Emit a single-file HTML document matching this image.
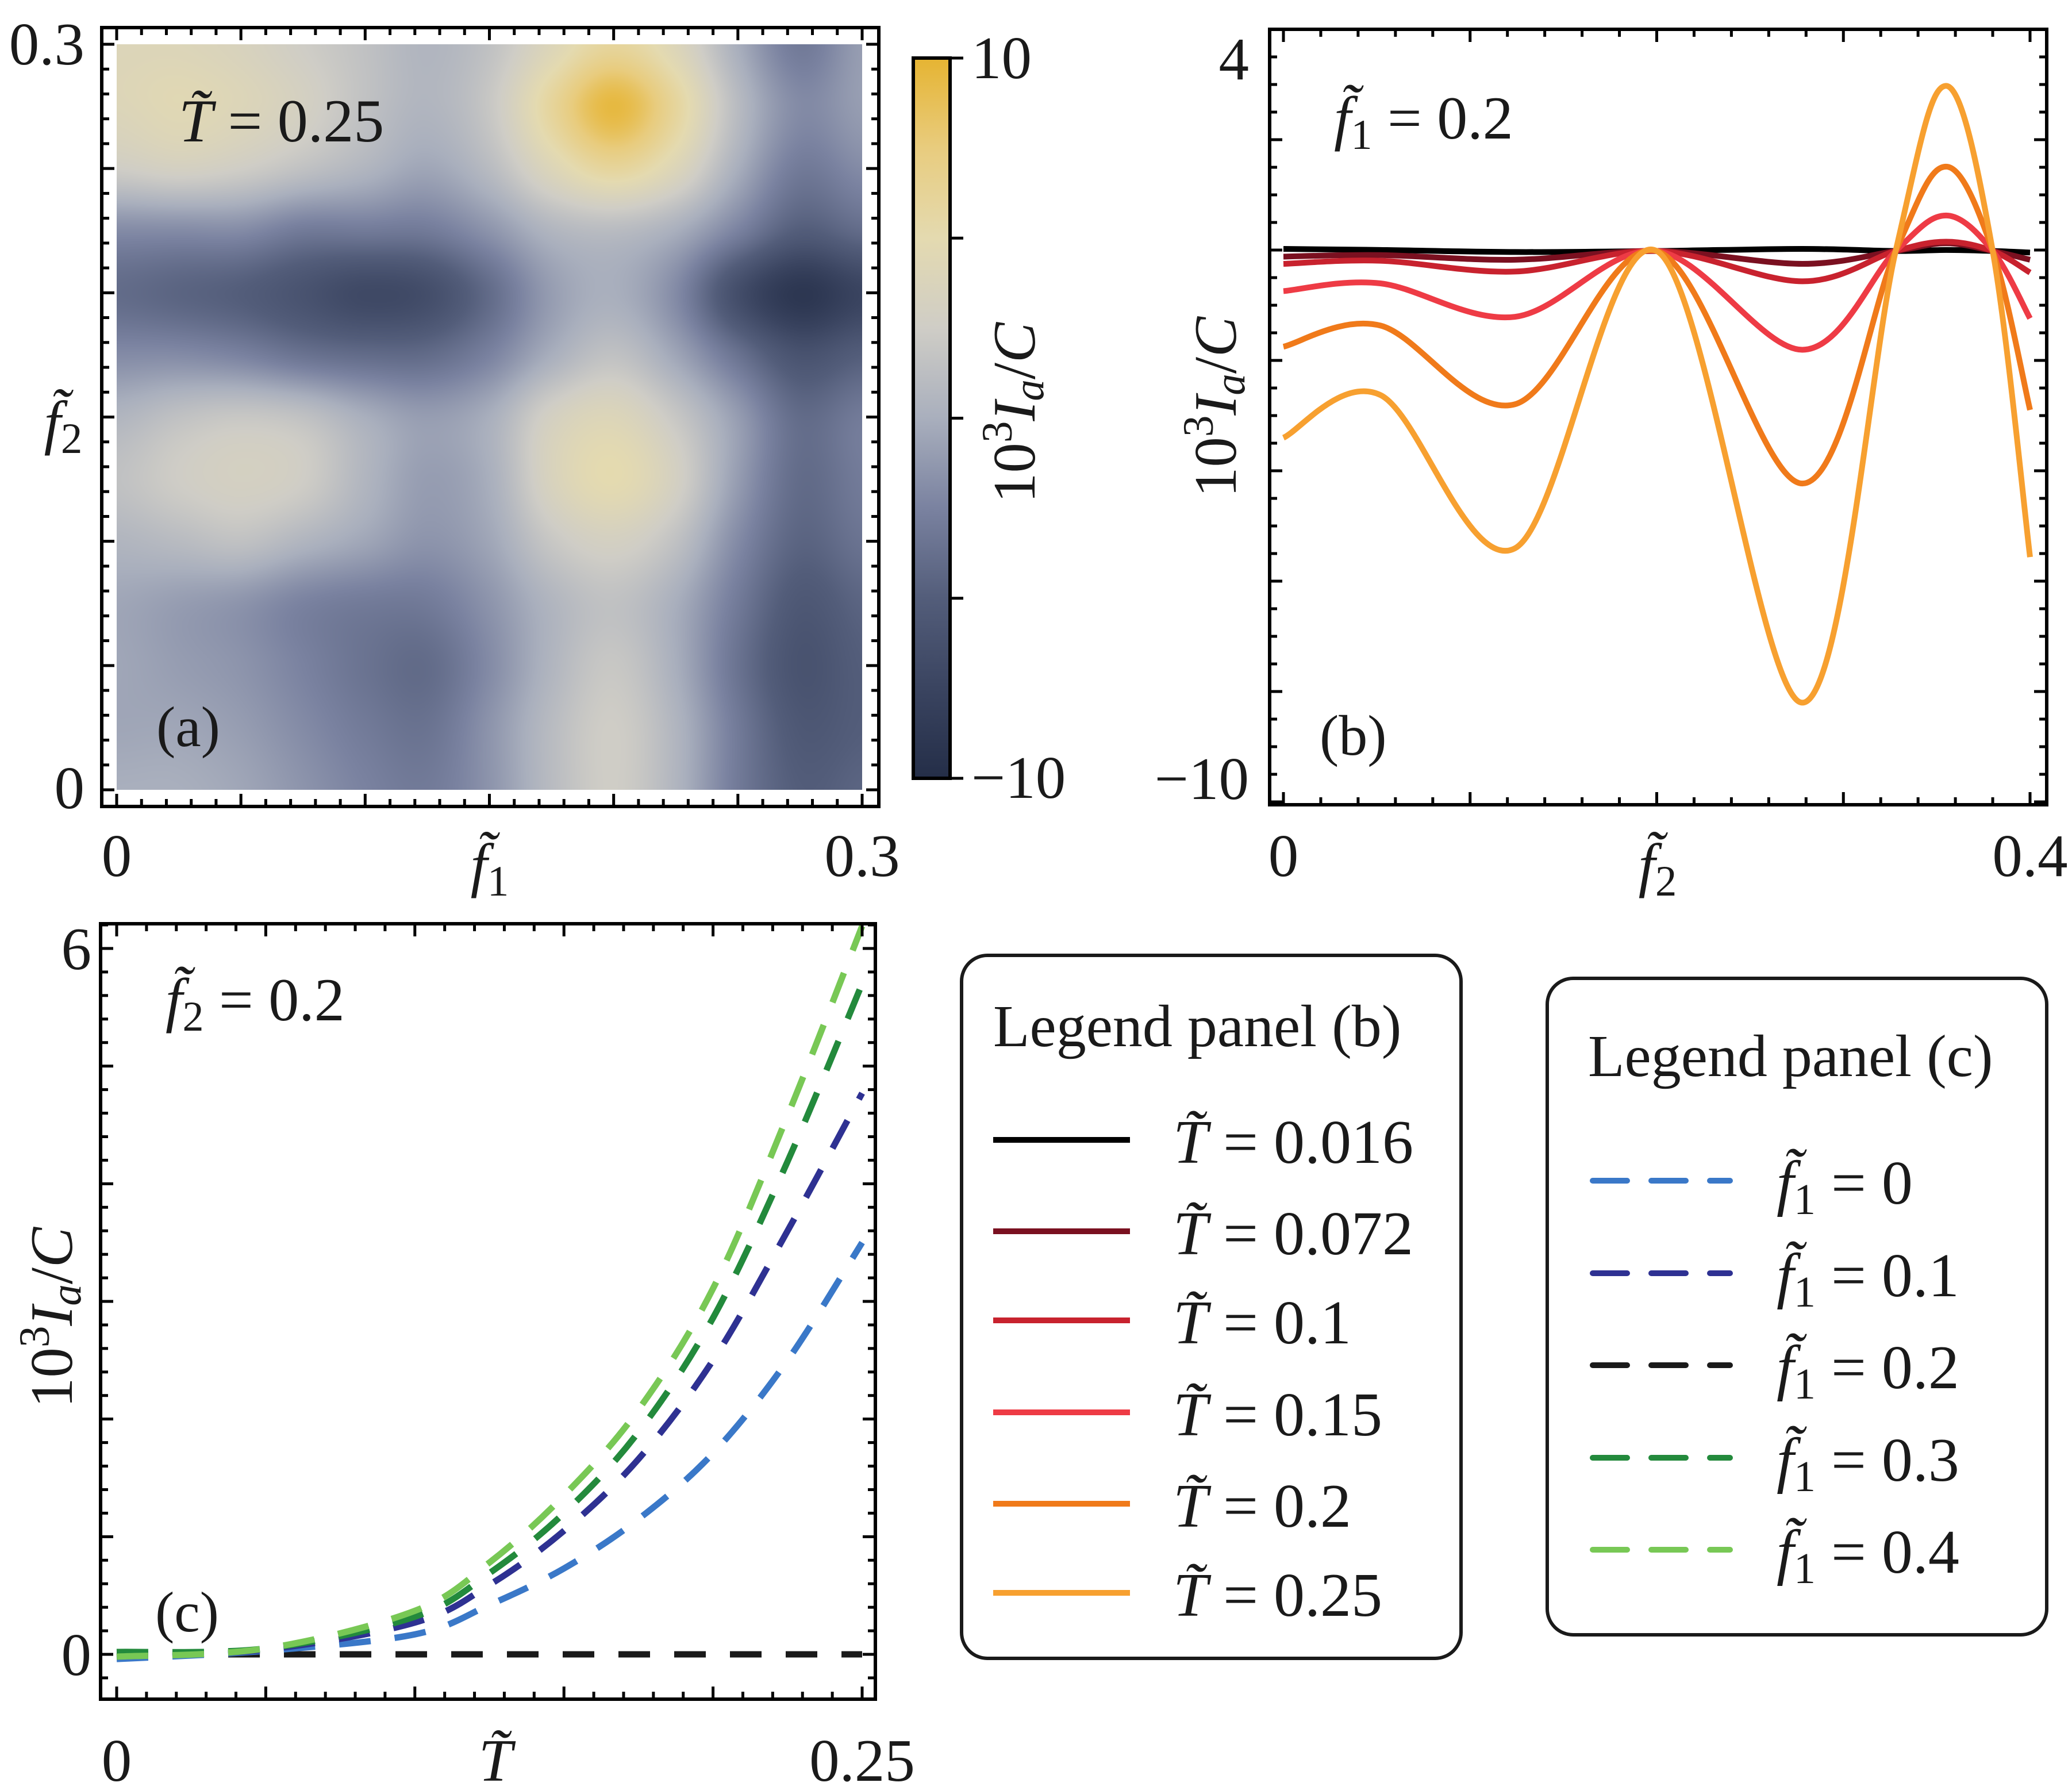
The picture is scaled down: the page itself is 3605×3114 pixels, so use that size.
<!DOCTYPE html>
<html><head><meta charset="utf-8"><style>
html,body{margin:0;padding:0;background:#fff;}
#wrap{position:relative;width:3605px;height:3114px;overflow:hidden;}
svg text{font-family:"Liberation Serif",serif;fill:#1a1a1a;}
.it{font-style:italic;}
</style></head><body>
<div id="wrap">
<canvas id="heat" width="1297" height="1297" style="position:absolute;left:203px;top:77px;"></canvas>
<svg id="s" width="3605" height="3114" style="position:absolute;left:0;top:0;" xmlns="http://www.w3.org/2000/svg">
<defs>
<linearGradient id="cbg" x1="0" y1="1" x2="0" y2="0">
<stop offset="0" stop-color="#242e48"/><stop offset="0.125" stop-color="#3a4460"/><stop offset="0.25" stop-color="#535d7a"/><stop offset="0.375" stop-color="#7a82a0"/><stop offset="0.5" stop-color="#a9afbd"/><stop offset="0.625" stop-color="#cfcdc6"/><stop offset="0.75" stop-color="#e4dab0"/><stop offset="0.875" stop-color="#e8cc7e"/><stop offset="1" stop-color="#e6b432"/>
</linearGradient>
<clipPath id="clipB"><rect x="2209" y="51" width="1352" height="1349"/></clipPath>
<clipPath id="clipC"><rect x="175" y="1607" width="1348" height="1349"/></clipPath>
</defs>
<g id="gA"></g>
<g id="gB"></g>
<g id="gC"></g>

<text x="311" y="246" font-size="106"><tspan class="it">T̃</tspan> = 0.25</text>
<text x="272" y="1298" font-size="100">(a)</text>
<text x="203" y="1524" font-size="105" text-anchor="middle">0</text>
<text x="1500" y="1524" font-size="105" text-anchor="middle">0.3</text>
<text x="852" y="1540" font-size="105" text-anchor="middle"><tspan class="it">f̃</tspan><tspan font-size="75" dy="18">1</tspan></text>
<text x="147" y="1406" font-size="105" text-anchor="end">0</text>
<text x="147" y="112" font-size="105" text-anchor="end">0.3</text>
<text x="110" y="770" font-size="105" text-anchor="middle"><tspan class="it">f̃</tspan><tspan font-size="75" dy="18">2</tspan></text>
<text x="1690" y="136" font-size="105">10</text>
<text x="1690" y="1388" font-size="105">−10</text>
<text transform="translate(1800,718) rotate(-90)" font-size="105" text-anchor="middle">10<tspan font-size="75" dy="-40">3</tspan><tspan class="it" dy="40">I</tspan><tspan class="it" font-size="75" dy="15">a</tspan><tspan dy="-15">/</tspan><tspan class="it">C</tspan></text>
<rect x="1589" y="101" width="64" height="1253" fill="url(#cbg)" stroke="#000" stroke-width="6"/>

<text x="2321" y="241" font-size="106"><tspan class="it">f̃</tspan><tspan font-size="74" dy="18">1</tspan><tspan dy="-18"> = 0.2</tspan></text>
<text x="2296" y="1313" font-size="100">(b)</text>
<text x="2173" y="138" font-size="105" text-anchor="end">4</text>
<text x="2173" y="1390" font-size="105" text-anchor="end">−10</text>
<text x="2233" y="1524" font-size="105" text-anchor="middle">0</text>
<text x="3532" y="1524" font-size="105" text-anchor="middle">0.4</text>
<text x="2884" y="1540" font-size="105" text-anchor="middle"><tspan class="it">f̃</tspan><tspan font-size="75" dy="18">2</tspan></text>
<text transform="translate(2150,708) rotate(-90)" font-size="105" text-anchor="middle">10<tspan font-size="75" dy="-40">3</tspan><tspan class="it" dy="40">I</tspan><tspan class="it" font-size="75" dy="15">a</tspan><tspan dy="-15">/</tspan><tspan class="it">C</tspan></text>

<text x="288" y="1775" font-size="106"><tspan class="it">f̃</tspan><tspan font-size="74" dy="18">2</tspan><tspan dy="-18"> = 0.2</tspan></text>
<text x="270" y="2838" font-size="100">(c)</text>
<text x="159" y="1686" font-size="105" text-anchor="end">6</text>
<text x="159" y="2914" font-size="105" text-anchor="end">0</text>
<text x="203" y="3098" font-size="105" text-anchor="middle">0</text>
<text x="1500" y="3098" font-size="105" text-anchor="middle">0.25</text>
<text x="862" y="3098" font-size="105" text-anchor="middle" class="it">T̃</text>
<text transform="translate(125,2292) rotate(-90)" font-size="105" text-anchor="middle">10<tspan font-size="75" dy="-40">3</tspan><tspan class="it" dy="40">I</tspan><tspan class="it" font-size="75" dy="15">a</tspan><tspan dy="-15">/</tspan><tspan class="it">C</tspan></text>

<g>
<rect x="1673" y="1662" width="869" height="1223" rx="45" fill="#fff" stroke="#1a1a1a" stroke-width="6"/>
<text x="1728" y="1820" font-size="104">Legend panel (b)</text>
<g id="legB"></g>
</g>
<g>
<rect x="2692" y="1702" width="869" height="1142" rx="45" fill="#fff" stroke="#1a1a1a" stroke-width="6"/>
<text x="2763" y="1872" font-size="104">Legend panel (c)</text>
<g id="legC"></g>
</g>
</svg>
</div>
<script>
const heatF1 = [0,0.025,0.05,0.075,0.1,0.125,0.15,0.175,0.2,0.225,0.25,0.275,0.3];
const heatF2 = [0.3,0.275,0.25,0.225,0.2,0.175,0.15,0.125,0.1,0.075,0.05,0.025,0];
const heatVals = [
[4,4,3.5,2.5,1.5,0.5,1.5,4,6,4,0,-3,-1],
[4,4.5,4,3,1.5,0.5,2,6,9.5,6,1,-2,-1],
[2.5,3,2.5,1.5,0.5,-0.5,1,4,6,4,0,-3,-2],
[-2,-2,-2,-3,-3,-3,-1.5,0.5,1,0,-2.5,-5,-4],
[-4,-4.5,-5,-6,-7,-6.5,-4,-1,0,-2,-6.5,-9,-7.5],
[-2,-2,-2.5,-3.5,-4,-4,-2.5,0,1.5,-0.5,-3.5,-6,-5],
[0.5,1.5,2,1.5,0,-1,0,3,4,2,-1,-4,-3],
[1.5,2.5,3,2.5,0.5,-1,0,3.5,5,3,-1,-4,-3],
[0.5,1,1.5,0.5,-0.5,-1.5,-0.5,2,3,1.5,-2,-4.5,-3.5],
[-0.5,-1,-1.5,-2.5,-3,-3,-1.5,0.5,1.5,0,-3,-5.5,-4.5],
[-0.5,-1,-1.5,-2.5,-3.5,-4,-2,0.5,2,0,-3.5,-6,-5],
[-0.5,-0.5,-1,-2,-3,-3.5,-1.5,1,2.5,0.5,-3,-5.5,-5],
[0,0,-0.5,-1.5,-2.5,-3,-1.5,1,2.5,0.5,-3,-5,-4.5]
];
const f2B = [0,0.052,0.124,0.2,0.278,0.328,0.355,0.38,0.4];
const labelsB = ["0.016","0.072","0.1","0.15","0.2","0.25"];
const seriesB_T0016 = [0.29,0.27,0.23,0.25,0.29,0.25,0.27,0.25,0.22];
const seriesB_T0072 = [0.14,0.17,0.08,0.25,0.0,0.25,0.40,0.25,0.08];
const seriesB_T01 = [0.0,0.06,-0.15,0.25,-0.34,0.25,0.43,0.25,-0.17];
const seriesB_T015 = [-0.53,-0.38,-1.03,0.25,-1.67,0.25,0.94,0.25,-1.06];
const seriesB_T02 = [-1.61,-1.20,-2.73,0.25,-4.27,0.25,1.89,0.25,-2.84];
const seriesB_T025 = [-3.38,-2.55,-5.53,0.25,-8.53,0.25,3.46,0.25,-5.70];
const TC = [0,0.05,0.1,0.125,0.15,0.175,0.2,0.225,0.25];
const labelsC = ["0","0.1","0.2","0.3","0.4"];
const seriesC_f0 = [-0.04,0.03,0.17,0.42,0.73,1.15,1.71,2.5,3.5];
const seriesC_f01 = [-0.02,0.04,0.27,0.59,1.05,1.66,2.5,3.6,4.77];
const seriesC_f02 = [0,0,0,0,0,0,0,0,0];
const seriesC_f03 = [0.02,0.05,0.32,0.69,1.2,1.89,2.86,4.19,5.7];
const seriesC_f04 = [-0.02,0.05,0.37,0.78,1.35,2.08,3.11,4.58,6.19];

const NS="http://www.w3.org/2000/svg";
function mk(tag,attrs,parent){const e=document.createElementNS(NS,tag);for(const k in attrs)e.setAttribute(k,attrs[k]);parent.appendChild(e);return e;}
const cmStops=[[-10,[36,46,72]],[-7.5,[58,68,96]],[-5,[83,93,122]],[-2.5,[122,130,160]],[0,[169,175,189]],[2.5,[207,205,198]],[5,[228,218,176]],[7.5,[232,204,126]],[10,[230,180,50]]];
function cmap(v){v=Math.max(-10,Math.min(10,v));for(let i=0;i<cmStops.length-1;i++){const a=cmStops[i],b=cmStops[i+1];if(v<=b[0]){const t=(v-a[0])/(b[0]-a[0]);return a[1].map((c,j)=>c+(b[1][j]-c)*t);}}return cmStops[cmStops.length-1][1];}
function cr(p0,p1,p2,p3,t){return 0.5*((2*p1)+(-p0+p2)*t+(2*p0-5*p1+4*p2-p3)*t*t+(-p0+3*p1-3*p2+p3)*t*t*t);}
function gridAt(r,c){r=Math.max(0,Math.min(heatF2.length-1,r));c=Math.max(0,Math.min(heatF1.length-1,c));return heatVals[r][c];}
function sampleHeat(rf,cf){const r=Math.floor(rf),c=Math.floor(cf),tr=rf-r,tc=cf-c;const rows=[];for(let i=-1;i<=2;i++){rows.push(cr(gridAt(r+i,c-1),gridAt(r+i,c),gridAt(r+i,c+1),gridAt(r+i,c+2),tc));}return cr(rows[0],rows[1],rows[2],rows[3],tr);}
(function(){const cv=document.getElementById('heat');const ctx=cv.getContext('2d');const W=cv.width,H=cv.height;const img=ctx.createImageData(W,H);
const nR=heatF2.length-1,nC=heatF1.length-1;
for(let y=0;y<H;y++){const rf=y/(H-1)*nR;for(let x=0;x<W;x++){const cf=x/(W-1)*nC;const col=cmap(sampleHeat(rf,cf));const i=(y*W+x)*4;img.data[i]=col[0];img.data[i+1]=col[1];img.data[i+2]=col[2];img.data[i+3]=255;}}
ctx.putImageData(img,0,0);})();

function ticks(g,x0,y0,x1,y1,xs,ys){
  for(const t of xs){const L=t.m?22:13;mk('line',{x1:t.p,y1:y1,x2:t.p,y2:y1-L,stroke:'#000','stroke-width':5},g);mk('line',{x1:t.p,y1:y0,x2:t.p,y2:y0+L,stroke:'#000','stroke-width':5},g);}
  for(const t of ys){const L=t.m?22:13;mk('line',{x1:x0,y1:t.p,x2:x0+L,y2:t.p,stroke:'#000','stroke-width':5},g);mk('line',{x1:x1,y1:t.p,x2:x1-L,y2:t.p,stroke:'#000','stroke-width':5},g);}
  mk('rect',{x:x0,y:y0,width:x1-x0,height:y1-y0,fill:'none',stroke:'#000','stroke-width':6},g);
}
function smoothPath(pts){let d='M'+pts[0][0]+','+pts[0][1];for(let i=0;i<pts.length-1;i++){const p0=pts[Math.max(0,i-1)],p1=pts[i],p2=pts[i+1],p3=pts[Math.min(pts.length-1,i+2)];const c1=[p1[0]+(p2[0]-p0[0])/6,p1[1]+(p2[1]-p0[1])/6],c2=[p2[0]-(p3[0]-p1[0])/6,p2[1]-(p3[1]-p1[1])/6];d+=' C'+c1[0]+','+c1[1]+' '+c2[0]+','+c2[1]+' '+p2[0]+','+p2[1];}return d;}

(function(){const g=document.getElementById('gA');const xA=v=>203+v/0.3*1297,yA=v=>1374-v/0.3*1297;
const xs=[],ys=[];for(let i=0;i<=30;i++){xs.push({p:xA(i*0.01),m:i%5==0});ys.push({p:yA(i*0.01),m:i%5==0});}
ticks(g,177,48,1529,1403,xs,ys);
[-10,-5,0,5,10].forEach(v=>{const y=1354-(v+10)/20*1253;const l=mk('line',{x1:1653,y1:y,x2:1676,y2:y,stroke:'#000','stroke-width':5},g);

});
})();

const xB=v=>2233+v/0.4*1299, yB=v=>101+(4-v)/14*1253;
(function(){const g=document.getElementById('gB');
const xs=[],ys=[];for(let i=0;i<=20;i++){xs.push({p:xB(i*0.02),m:i%5==0});}
for(let p=51+48;p<1400;p+=48){const k=Math.round((p-435)/48);ys.push({p:p,m:((k%4)+4)%4==0});}
const cols=['#000000','#7a1020','#c8222e','#ee3b45','#f07a1a','#f7a030'];
const ser=[seriesB_T0016,seriesB_T0072,seriesB_T01,seriesB_T015,seriesB_T02,seriesB_T025];
const cg=mk('g',{'clip-path':'url(#clipB)'},g);
ser.forEach((s,k)=>{const p=mk('path',{d:smoothPath(f2B.map((x,i)=>[xB(x),yB(s[i])])),fill:'none',stroke:cols[k],'stroke-width':10,'stroke-linejoin':'round'},cg);

});
ticks(g,2209,51,3561,1400,xs,ys);
const lg=document.getElementById('legB');const ly=[1983,2142,2297,2457,2616,2771];
labelsB.forEach((lb,k)=>{const l=mk('line',{x1:1728,y1:ly[k],x2:1966,y2:ly[k],stroke:cols[k],'stroke-width':10},lg);


const t=mk('text',{x:2041,y:ly[k]+40,'font-size':108},lg);t.innerHTML='<tspan font-style="italic">T̃</tspan> = '+lb;

});
})();

const xC=v=>203+v/0.25*1297, yC=v=>2878-v/6*1228;
(function(){const g=document.getElementById('gC');
const xs=[],ys=[];for(let i=0;i<=25;i++){xs.push({p:xC(i*0.01),m:i%5==0});}
for(let i=-1;i<=32;i++){const p=yC(i*0.2);if(p>1607&&p<2956)ys.push({p:p,m:i%5==0});}
const cols=['#3a78c8','#2e3192','#1a1a1a','#238a3c','#78c855'];
const ser=[seriesC_f0,seriesC_f01,seriesC_f02,seriesC_f03,seriesC_f04];
const order=[2,0,1,3,4];
const cg=mk('g',{'clip-path':'url(#clipC)'},g);
order.forEach(k=>{const s=ser[k];const p=mk('path',{d:smoothPath(TC.map((x,i)=>[xC(x),yC(s[i])])),fill:'none',stroke:cols[k],'stroke-width':11,'stroke-dasharray':'55 42'},cg);

});
ticks(g,175,1607,1523,2956,xs,ys);
const lg=document.getElementById('legC');const ly=[2054,2215,2375,2536,2696];
labelsC.forEach((lb,k)=>{const l=mk('line',{x1:2771,y1:ly[k],x2:3010,y2:ly[k],stroke:cols[k],'stroke-width':10,'stroke-dasharray':'60 42','stroke-linecap':'round'},lg);


const t=mk('text',{x:3091,y:ly[k]+40,'font-size':108},lg);t.innerHTML='<tspan font-style="italic">f̃</tspan><tspan font-size="76" dy="18">1</tspan><tspan dy="-18"> = '+lb+'</tspan>';

});
})();
</script>
</body></html>
